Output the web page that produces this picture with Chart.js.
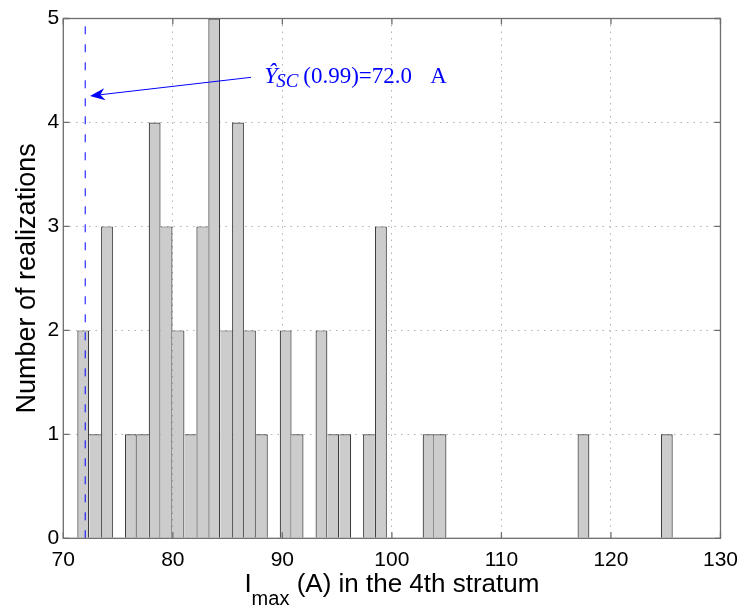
<!DOCTYPE html>
<html>
<head>
<meta charset="utf-8">
<script src="https://cdn.jsdelivr.net/npm/chart.js@4.4.1/dist/chart.umd.min.js"></script>
<style>
  body { margin: 0; background: #fff; }
  #chart { display: block; }
</style>
</head>
<body>
<canvas id="chart" width="747" height="609"></canvas>
<script>
// histogram of Imax in the 4th stratum (50 bins)
const binCenters = [
    71.82, 72.91, 73.99, 75.08, 76.17, 77.26, 78.34, 79.43, 80.52, 81.61,
    82.69, 83.78, 84.87, 85.95, 87.04, 88.13, 89.22, 90.30, 91.39, 92.48,
    93.57, 94.65, 95.74, 96.83, 97.91, 99.00, 100.09, 101.18, 102.26, 103.35,
    104.44, 105.53, 106.61, 107.70, 108.79, 109.87, 110.96, 112.05, 113.14, 114.22,
    115.31, 116.40, 117.49, 118.57, 119.66, 120.75, 121.83, 122.92, 124.01, 125.10
];
const counts = [
    2, 1, 3, 0, 1, 1, 4, 3, 2, 1,
    3, 5, 2, 4, 2, 1, 0, 2, 1, 0,
    2, 1, 1, 0, 1, 3, 0, 0, 0, 1,
    1, 0, 0, 0, 0, 0, 0, 0, 0, 0,
    0, 0, 1, 0, 0, 0, 0, 0, 0, 1
];
const xTicks = [70, 80, 90, 100, 110, 120, 130];
const yTicks = [0, 1, 2, 3, 4, 5];
const quantile = 72.0;
const yTitle = 'Number of realizations';
const xTitle = ['I', 'max', ' (A) in the 4th stratum'];
const quantileLabel = ['Ŷ', 'SC', '(0.99)=72.0', 'A'];

// annotation placement, in data units
const arrowFrom = [87.14, 4.434];
const arrowTo = [72.43, 4.255];
const labelAt = [88.35, 4.38];

const SANS = '"Liberation Sans", Arial, sans-serif';
const SERIF = '"Liberation Serif", "Times New Roman", serif';

const frame = {
    id: 'frame',
    afterDraw(chart) {
        const {ctx, chartArea: a, scales: {x, y}} = chart;
        ctx.save();

        // axes box with inward ticks
        ctx.strokeStyle = '#6e6e6e';
        ctx.lineWidth = 1.3;
        ctx.strokeRect(a.left, a.top, a.right - a.left, a.bottom - a.top);
        ctx.beginPath();
        xTicks.forEach(v => {
            const px = x.getPixelForValue(v);
            ctx.moveTo(px, a.bottom); ctx.lineTo(px, a.bottom - 6);
            ctx.moveTo(px, a.top); ctx.lineTo(px, a.top + 6);
        });
        yTicks.forEach(v => {
            const py = y.getPixelForValue(v);
            ctx.moveTo(a.left, py); ctx.lineTo(a.left + 6, py);
            ctx.moveTo(a.right, py); ctx.lineTo(a.right - 6, py);
        });
        ctx.stroke();

        // arrow
        const tx = x.getPixelForValue(arrowFrom[0]), ty = y.getPixelForValue(arrowFrom[1]);
        const hx = x.getPixelForValue(arrowTo[0]), hy = y.getPixelForValue(arrowTo[1]);
        const len = Math.hypot(hx - tx, hy - ty);
        const ux = (hx - tx) / len, uy = (hy - ty) / len;
        const L = 15, W = 6;
        ctx.strokeStyle = 'blue';
        ctx.fillStyle = 'blue';
        ctx.lineWidth = 1;
        ctx.beginPath();
        ctx.moveTo(tx, ty);
        ctx.lineTo(hx - ux * L * 0.7, hy - uy * L * 0.7);
        ctx.stroke();
        ctx.beginPath();
        ctx.moveTo(hx, hy);
        ctx.lineTo(hx - ux * L - uy * W, hy - uy * L + ux * W);
        ctx.lineTo(hx - ux * L * 0.7, hy - uy * L * 0.7);
        ctx.lineTo(hx - ux * L + uy * W, hy - uy * L - ux * W);
        ctx.closePath();
        ctx.fill();

        // annotation text
        const lx = x.getPixelForValue(labelAt[0]), ly = y.getPixelForValue(labelAt[1]);
        ctx.textAlign = 'left';
        ctx.textBaseline = 'alphabetic';
        ctx.font = 'italic 24px ' + SERIF;
        ctx.fillText(quantileLabel[0], lx, ly);
        ctx.font = 'italic 19px ' + SERIF;
        ctx.fillText(quantileLabel[1], lx + 12, ly + 4);
        ctx.font = '23px ' + SERIF;
        ctx.fillText(quantileLabel[2], lx + 39, ly);
        ctx.fillText(quantileLabel[3], lx + 166, ly);

        // axis titles
        ctx.fillStyle = '#000';
        ctx.font = '27px ' + SANS;
        ctx.save();
        ctx.translate(34.5, (a.top + a.bottom) / 2);
        ctx.rotate(-Math.PI / 2);
        ctx.textAlign = 'center';
        ctx.fillText(yTitle, 0, 0);
        ctx.restore();

        ctx.font = '26px ' + SANS;
        const w0 = ctx.measureText(xTitle[0]).width;
        const w2 = ctx.measureText(xTitle[2]).width;
        ctx.font = '20px ' + SANS;
        const w1 = ctx.measureText(xTitle[1]).width;
        let cx = (a.left + a.right) / 2 - (w0 + w1 + w2) / 2;
        const base = 592;
        ctx.font = '26px ' + SANS;
        ctx.fillText(xTitle[0], cx, base);
        ctx.font = '20px ' + SANS;
        ctx.fillText(xTitle[1], cx + w0, base + 13);
        ctx.font = '26px ' + SANS;
        ctx.fillText(xTitle[2], cx + w0 + w1, base);

        ctx.restore();
    }
};

const ctx = document.getElementById('chart').getContext('2d');
const chart = new Chart(ctx, {
    type: 'bar',
    data: {
        datasets: [{
            type: 'line',
            data: [{x: quantile, y: yTicks[0]}, {x: quantile, y: yTicks[yTicks.length - 1]}],
            borderColor: 'blue',
            borderWidth: 1,
            borderDash: [8, 10],
            pointRadius: 0,
            fill: false,
            order: 0
        }, {
            data: binCenters.map((c, i) => ({x: c, y: counts[i]})),
            backgroundColor: '#cccccc',
            borderColor: '#3c3c3c',
            borderWidth: function (c) {
                const i = c.dataIndex;
                if (i === undefined) return 1;
                const v = counts[i];
                const prev = i > 0 ? counts[i - 1] : 0;
                const next = i < counts.length - 1 ? counts[i + 1] : 0;
                return {top: 1.2, bottom: 0, left: prev >= v ? 0 : 1.2, right: next > v ? 0 : 1.2};
            },
            borderSkipped: false,
            inflateAmount: 0,
            barPercentage: 1,
            categoryPercentage: 1,
            order: 1
        }]
    },
    options: {
        responsive: false,
        animation: false,
        layout: {padding: {top: 18.5, right: 24.3, bottom: 0, left: 0}},
        plugins: {legend: {display: false}, tooltip: {enabled: false}},
        scales: {
            x: {
                type: 'linear',
                min: 70,
                max: 130,
                offset: false,
                afterBuildTicks: s => { s.ticks = xTicks.map(v => ({value: v})); },
                afterFit: s => { s.height = 70.7; },
                grid: {offset: false, drawTicks: false, color: '#b0b0b0', lineWidth: 1},
                border: {display: false, dash: [1.5, 5]},
                ticks: {color: '#000', padding: 9, maxRotation: 0, font: {family: SANS, size: 21}}
            },
            y: {
                min: 0,
                max: 5,
                afterBuildTicks: s => { s.ticks = yTicks.map(v => ({value: v})); },
                afterFit: s => { s.width = 63.3; },
                grid: {drawTicks: false, color: '#b0b0b0', lineWidth: 1},
                border: {display: false, dash: [1.5, 5]},
                ticks: {color: '#000', padding: 4, font: {family: SANS, size: 21}}
            }
        }
    },
    plugins: [frame]
});
</script>
</body>
</html>
